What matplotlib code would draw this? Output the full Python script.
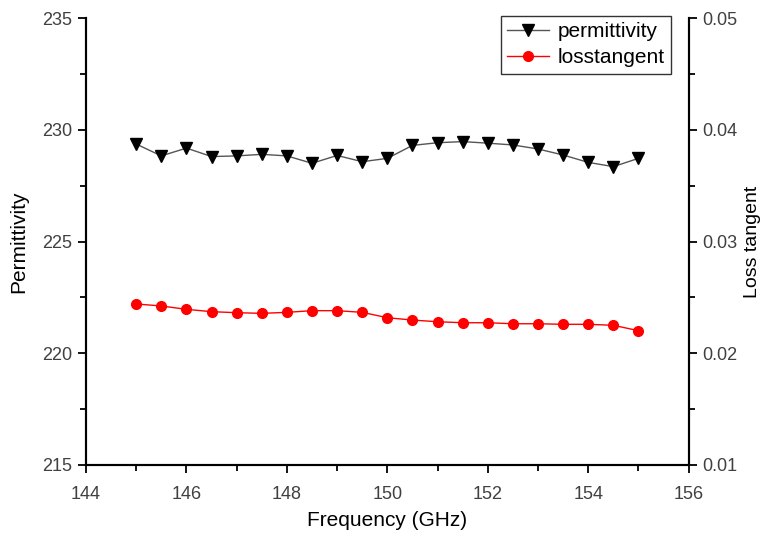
import matplotlib
matplotlib.use("Agg")
import matplotlib.pyplot as plt
from matplotlib.ticker import MultipleLocator, FormatStrFormatter

plt.rcParams['font.family'] = ['Liberation Sans', 'DejaVu Sans']

# frequency points (GHz)
freq = [145, 145.5, 146, 146.5, 147, 147.5, 148, 148.5, 149, 149.5, 150,
        150.5, 151, 151.5, 152, 152.5, 153, 153.5, 154, 154.5, 155]
permittivity = [229.36, 228.83, 229.18, 228.80, 228.83, 228.90, 228.83, 228.50,
                228.85, 228.57, 228.72, 229.30, 229.42, 229.47, 229.40, 229.32,
                229.14, 228.87, 228.54, 228.35, 228.72]
losstangent = [0.02441, 0.02423, 0.02393, 0.02372, 0.02363, 0.02357, 0.02366,
               0.02381, 0.02381, 0.02366, 0.02318, 0.02297, 0.02282, 0.02273,
               0.02273, 0.02264, 0.02264, 0.02259, 0.02259, 0.02250, 0.02202]

fig = plt.figure(figsize=(7.61, 5.33), dpi=100)
ax = fig.add_axes([0.113, 0.1276, 0.792, 0.8386])
ax2 = ax.twinx()

l1, = ax.plot(freq, permittivity, '-', color='#555555', lw=1.0,
              marker='v', markersize=9, markerfacecolor='black',
              markeredgecolor='black', label='permittivity')
l2, = ax2.plot(freq, losstangent, '-', color='red', lw=1.0,
               marker='o', markersize=7, markerfacecolor='red',
               markeredgecolor='red', label='losstangent')

ax.set_xlim(144, 156)
ax.set_ylim(215, 235)
ax2.set_ylim(0.01, 0.05)

ax.xaxis.set_major_locator(MultipleLocator(2))
ax.xaxis.set_minor_locator(MultipleLocator(1))
ax.yaxis.set_major_locator(MultipleLocator(5))
ax.yaxis.set_minor_locator(MultipleLocator(2.5))
ax2.yaxis.set_major_locator(MultipleLocator(0.01))
ax2.yaxis.set_minor_locator(MultipleLocator(0.005))
ax2.yaxis.set_major_formatter(FormatStrFormatter('%.2f'))

for a in (ax, ax2):
    a.spines['top'].set_visible(False)
    for s in a.spines.values():
        s.set_linewidth(1.5)
    a.tick_params(which='major', direction='out', length=6, width=1.3,
                  labelsize=13, labelcolor='#404040', pad=4)
    a.tick_params(which='minor', direction='out', length=4, width=1.3)
ax.tick_params(axis='x', which='major', pad=9)

ax.set_xlabel('Frequency (GHz)', fontsize=15)
ax.xaxis.set_label_coords(0.5, -0.103)
ax.set_ylabel('Permittivity', fontsize=15, labelpad=10)
ax2.set_ylabel('Loss tangent', fontsize=14)
ax2.yaxis.set_label_coords(1.092, 0.5)

leg = ax.legend(handles=[l1, l2], loc='upper right', fontsize=15,
                frameon=True, fancybox=False, edgecolor='black',
                handlelength=2.0, handletextpad=0.4, borderpad=0.3,
                labelspacing=0.35, borderaxespad=0.0,
                bbox_to_anchor=(0.97, 1.005))
leg.get_frame().set_linewidth(1.0)

fig.savefig('out.png', dpi=100)
